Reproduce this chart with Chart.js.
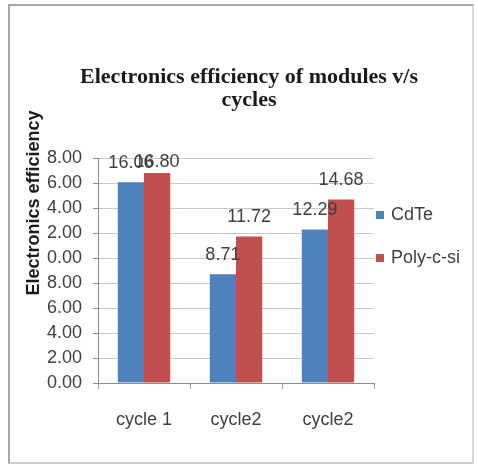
<!DOCTYPE html>
<html>
<head>
<meta charset="utf-8">
<script src="https://cdn.jsdelivr.net/npm/chart.js@4.4.0/dist/chart.umd.min.js"></script>
<style>
  html, body { margin: 0; padding: 0; background: #fff; }
  #wrap { position: relative; width: 478px; height: 466px; }
  #frame {
    position: absolute; left: 8px; top: 4px; width: 462px; height: 456px;
    border: 2px solid #a6a6a6; border-right-color: #d8d8d8; border-bottom-color: #cfcfcf;
  }
  canvas { position: absolute; left: 0; top: 0; }
</style>
</head>
<body>
<div id="wrap">
  <div id="frame"></div>
  <canvas id="chart" width="478" height="466"></canvas>
</div>
<script>
// Chart values
const cycles = ["cycle 1", "cycle2", "cycle2"];
const cdte = [16.06, 8.71, 12.29];
const polySi = [16.80, 11.72, 14.68];
const seriesNames = ["CdTe", "Poly-c-si"];
const seriesColors = ["#4F81BD", "#C0504D"];
const titleLines = ["Electronics efficiency of modules v/s", "cycles"];
const yTitle = "Electronics efficiency";

const textColor = "#404040";
const sans = "'Liberation Sans', Arial, sans-serif";

// Titles, legend and value labels drawn over the chart
const overlay = {
  id: "overlay",
  afterDatasetsDraw(chart) {
    const ctx = chart.ctx;
    const top = chart.chartArea.top;
    ctx.save();
    ctx.font = "18px " + sans;
    ctx.fillStyle = textColor;
    ctx.textAlign = "center";
    ctx.textBaseline = "middle";
    chart.data.datasets.forEach((ds, i) => {
      chart.getDatasetMeta(i).data.forEach((bar, j) => {
        const y = Math.max(bar.y - 19, top + 4);
        ctx.fillText(ds.data[j].toFixed(2), bar.x, y);
      });
    });
    ctx.restore();
  },
  afterDraw(chart) {
    const ctx = chart.ctx;
    ctx.save();
    // chart title
    ctx.fillStyle = "#1a1a1a";
    ctx.font = "bold 22px 'Liberation Serif', 'Times New Roman', serif";
    ctx.textAlign = "center";
    ctx.textBaseline = "alphabetic";
    ctx.fillText(titleLines[0], 249, 83);
    ctx.fillText(titleLines[1], 249, 106);

    // y axis title (covers the leading digits of the top labels)
    ctx.translate(34, 203);
    ctx.rotate(-Math.PI / 2);
    ctx.fillStyle = "#fff";
    ctx.fillRect(-100, -12, 200, 25);
    ctx.fillStyle = "#1a1a1a";
    ctx.font = "bold 18px " + sans;
    ctx.textAlign = "center";
    ctx.textBaseline = "middle";
    ctx.fillText(yTitle, 0, 0);
    ctx.restore();

    // legend
    ctx.save();
    ctx.font = "18px " + sans;
    ctx.textBaseline = "middle";
    ctx.textAlign = "left";
    const legendY = [215, 258];
    seriesNames.forEach((name, i) => {
      ctx.fillStyle = seriesColors[i];
      ctx.fillRect(376, legendY[i] - 4, 8, 8);
      ctx.fillStyle = textColor;
      ctx.fillText(name, 391, legendY[i]);
    });
    ctx.restore();
  }
};

new Chart(document.getElementById("chart"), {
  type: "bar",
  data: {
    labels: cycles,
    datasets: [
      { label: seriesNames[0], data: cdte, backgroundColor: seriesColors[0] },
      { label: seriesNames[1], data: polySi, backgroundColor: seriesColors[1] }
    ]
  },
  options: {
    responsive: false,
    animation: false,
    layout: { padding: { top: 158, right: 104, left: 0, bottom: 0 } },
    datasets: { bar: { categoryPercentage: 0.57, barPercentage: 1.0 } },
    plugins: {
      legend: { display: false },
      title: { display: false },
      tooltip: { enabled: false }
    },
    scales: {
      x: {
        afterFit(scale) { scale.height = 83; },
        grid: { drawOnChartArea: false, tickLength: 6, color: "#9a9a9a", offset: true },
        border: { color: "#8c8c8c" },
        ticks: { color: textColor, font: { size: 18, family: sans }, padding: 20 }
      },
      y: {
        min: 0,
        max: 18,
        afterFit(scale) { scale.width = 98; },
        grid: { color: "#c8c8c8", tickLength: 5, tickColor: "#8c8c8c" },
        border: { color: "#8c8c8c" },
        ticks: {
          stepSize: 2,
          color: textColor,
          font: { size: 18, family: sans },
          padding: 11,
          callback: v => v.toFixed(2)
        }
      }
    }
  },
  plugins: [overlay]
});
</script>
</body>
</html>
